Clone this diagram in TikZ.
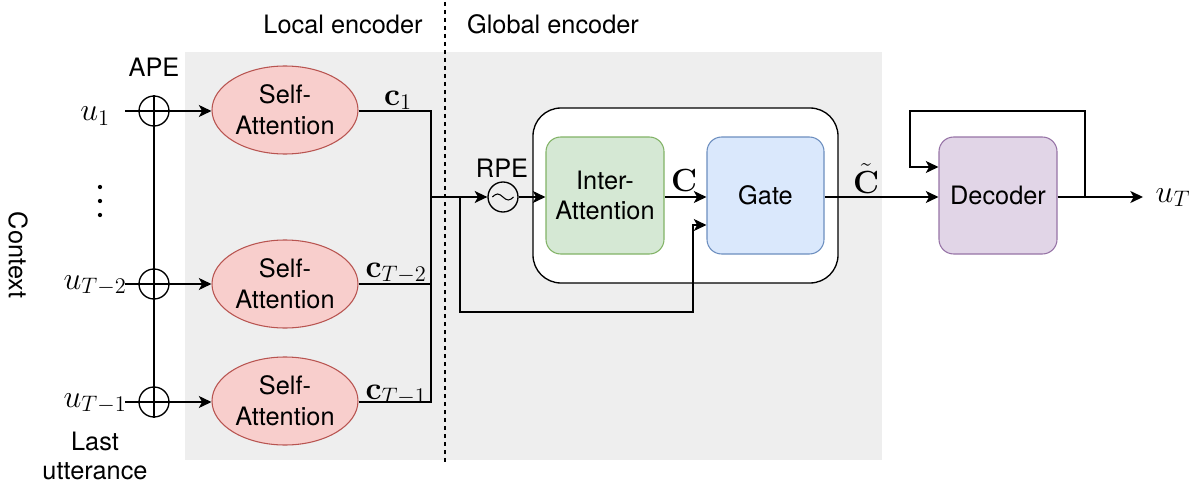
\RequirePackage{fix-cm}
\documentclass[tikz,border=0pt]{standalone}
\usepackage[no-math]{fontspec}
\setmainfont{TeX Gyre Heros}
\usetikzlibrary{arrows.meta,shapes.geometric}
\definecolor{bgGray}{HTML}{EEEEEE}
\definecolor{saFill}{HTML}{F8CECC}\definecolor{saLine}{HTML}{B85450}
\definecolor{iaFill}{HTML}{D5E8D4}\definecolor{iaLine}{HTML}{82B366}
\definecolor{gtFill}{HTML}{DAE8FC}\definecolor{gtLine}{HTML}{6C8EBF}
\definecolor{dcFill}{HTML}{E1D5E7}\definecolor{dcLine}{HTML}{9673A6}
\begin{document}
\begin{tikzpicture}[x=0.75pt,y=-0.75pt,line width=1pt,
  txt/.style={font=\fontsize{19}{23}\selectfont,align=center,inner sep=0pt},
  mth/.style={font=\fontsize{24}{28}\selectfont,inner sep=0pt},
  arr/.style={-{Stealth[length=9.5pt,width=9pt,inset=2.5pt]}},
  selfatt/.style={ellipse,draw=saLine,fill=saFill,line width=0.8pt,
    minimum width=109.5pt,minimum height=66pt,inner sep=0pt,txt},
  block/.style={draw,rounded corners=11pt,line width=0.8pt,
    minimum width=88.5pt,minimum height=87.75pt,inner sep=0pt,txt},
  addop/.style={circle,draw,minimum size=22.5pt,inner sep=0pt},
]
\useasboundingbox (0,0) rectangle (1189,485);

% shaded encoder area and the local/global divider
\fill[bgGray] (185,52) rectangle (882,460);
\draw[dash pattern=on 3pt off 3pt] (445,2) -- (445,462);
\node[txt] (loc) at (343,24) {Local encoder};
\node[txt] (glo) at (553,24) {Global encoder};

% context side
\node[txt,rotate=-90] (ctx) at (18,255) {Context};
\node[txt,font=\fontsize{19}{21.5}\selectfont] (last) at (95,456) {Last\\utterance};
\node[txt] (ape) at (154,67) {APE};
\fill (100,187) circle (1.6pt) (100,201) circle (1.6pt) (100,215) circle (1.6pt);

\node[mth,anchor=base] (u1) at (95,121) {$u_1$};
\node[mth,anchor=base] (u2) at (95,289) {$u_{T-2}$};
\node[mth,anchor=base] (u3) at (95,407) {$u_{T-1}$};

\node[addop] (p1) at (154,111) {};
\node[addop] (p2) at (154,284) {};
\node[addop] (p3) at (154,402) {};
\draw (p1.north) -- (p3.south);

\node[selfatt] (sa1) at (285,110) {Self-\\Attention};
\node[selfatt] (sa2) at (285,284) {Self-\\Attention};
\node[selfatt] (sa3) at (285,401) {Self-\\Attention};

\coordinate (in1) at (125,111);
\coordinate (in2) at (125,284);
\coordinate (in3) at (125,402);
\draw[arr] (in1) -- (in1 -| sa1.west);
\draw[arr] (in2) -- (in2 -| sa2.west);
\draw[arr] (in3) -- (in3 -| sa3.west);

% local outputs collected on a bus
\coordinate (bt) at (431,111);
\coordinate (bb) at (431,402);
\draw (sa1.east |- bt) -- (bt) -- (bb) -- (sa3.east |- bb);
\draw (sa2.east) -- (sa2.east -| bt);
\node[mth,anchor=base] (c1) at (398,105) {$\mathbf{c}_1$};
\node[mth,anchor=base] (c2) at (396,277) {$\mathbf{c}_{T-2}$};
\node[mth,anchor=base] (c3) at (396,399) {$\mathbf{c}_{T-1}$};

% global encoder
\node[draw,rounded corners=21pt,fill=white,minimum width=228.75pt,
  minimum height=131.25pt,inner sep=0pt] (genc) at (685.5,195.5) {};
\node[block,draw=iaLine,fill=iaFill] (inter) at (605,195.5) {Inter-\\Attention};
\node[block,draw=gtLine,fill=gtFill,minimum width=87.75pt] (gate) at (765.5,195.5) {Gate};
\node[addop] (rpe) at (503,197) {};
\draw[line width=0.8pt] ([xshift=-8pt]rpe.center) sin ++(5.3,-3) cos ++(5.3,3)
  sin ++(5.3,3) cos ++(5.3,-3);
\node[txt] (rpel) at (502,168) {RPE};

\coordinate (mg) at (431,197);
\coordinate (br) at (460,197);
\draw[arr] (mg) -- (rpe.west);
\draw[arr] (rpe.east) -- (rpe.east -| inter.west);
\draw[arr] (br) |- (693,312) |- (gate.west |- 0,225);
\draw[arr] (inter.east |- rpe) -- (gate.west |- rpe);
\node[mth,anchor=base] (cC) at (684,191) {$\mathbf{C}$};

% decoder
\node[block,draw=dcLine,fill=dcFill] (dec) at (998,195.5) {Decoder};
\draw[arr] (gate.east |- rpe) -- (dec.west |- rpe);
\node[mth,anchor=base] (cT) at (866,193) {$\tilde{\mathbf{C}}$};
\coordinate (fb) at (1085,197);
\coordinate (uend) at (1143,197);
\draw[arr] (dec.east |- rpe) -- (uend);
\draw[arr] (fb) |- (910,111) |- (dec.west |- 0,167);
\node[mth,anchor=base west] (uT) at (1155,202) {$u_T$};
\end{tikzpicture}
\end{document}
